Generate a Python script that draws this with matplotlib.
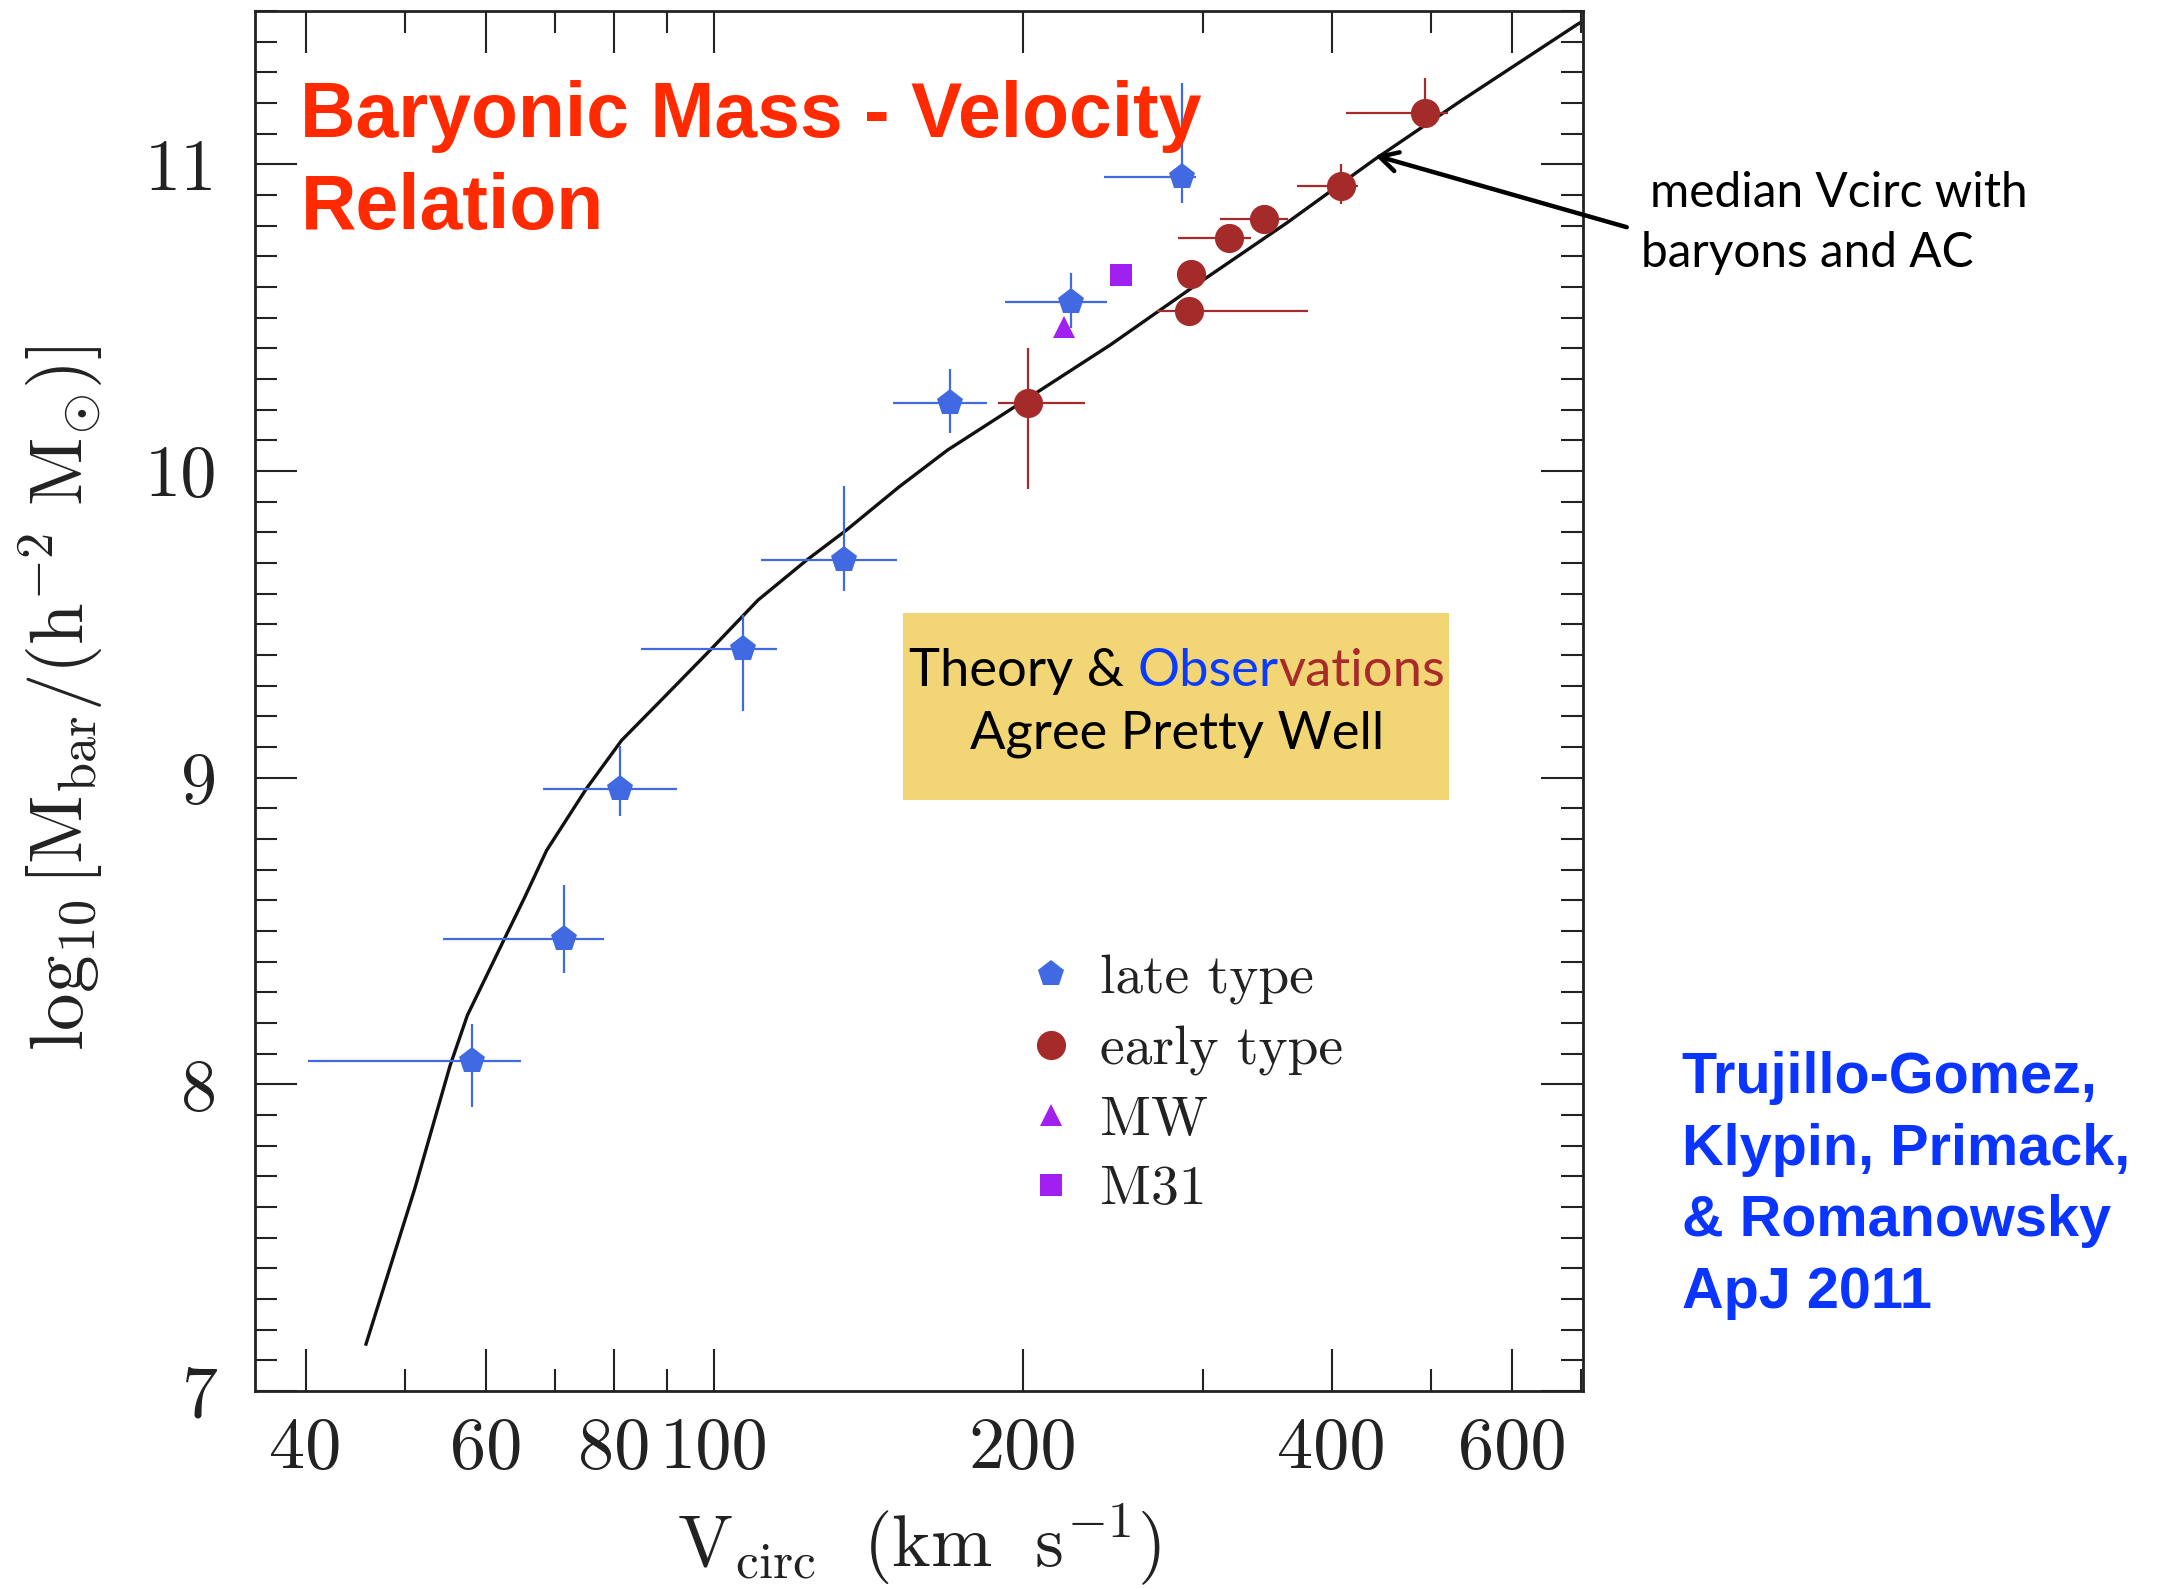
import matplotlib
matplotlib.use('Agg')
import matplotlib.pyplot as plt
import numpy as np
from matplotlib.patches import Rectangle
from matplotlib.ticker import NullFormatter

plt.rcParams['mathtext.fontset'] = 'cm'
plt.rcParams['axes.unicode_minus'] = False

# ---------------- data ----------------
curve_v = [45.8, 51.1, 55.3, 57.5, 62.5, 65.4, 68.7, 75.1, 81.3, 88.8, 99.1, 110.4,
           123.1, 134.6, 151.5, 168.9, 192.0, 243.4, 296.6, 361.4, 440.2, 536.4, 693.4, 699.9]
curve_m = [7.153, 7.660, 8.060, 8.225, 8.475, 8.610, 8.763, 8.964, 9.122, 9.252, 9.415, 9.579,
           9.709, 9.807, 9.948, 10.068, 10.188, 10.411, 10.612, 10.808, 11.015, 11.210, 11.455, 11.463]

late_v = [58.1, 71.5, 81.0, 106.8, 134.0, 169.8, 222.7, 286.2]
late_v_lo = [40.2, 54.5, 68.1, 84.9, 111.1, 149.4, 192.0, 240.0]
late_v_hi = [64.8, 78.2, 92.1, 115.3, 150.9, 184.5, 241.9, 295.3]
late_m = [8.075, 8.475, 8.964, 9.418, 9.711, 10.221, 10.552, 10.960]
late_m_lo = [7.925, 8.362, 8.875, 9.216, 9.608, 10.123, 10.467, 10.873]
late_m_hi = [8.197, 8.651, 9.103, 9.532, 9.951, 10.333, 10.645, 11.265]

early_v = [202.6, 290.7, 292.0, 317.8, 344.0, 408.3, 493.7]
early_v_lo = [189.4, 270.2, 283.0, 283.3, 311.2, 370.0, 413.3]
early_v_hi = [230.2, 379.6, 300.0, 333.9, 362.9, 424.8, 519.6]
early_m = [10.221, 10.523, 10.643, 10.761, 10.822, 10.928, 11.167]
early_m_lo = [9.940, 10.480, 10.615, 10.750, 10.800, 10.871, 11.123]
early_m_hi = [10.402, 10.569, 10.670, 10.772, 10.845, 11.002, 11.281]

mw_v = [219.6]
mw_m = [10.471]
m31_v = [249.5]
m31_m = [10.639]

xticks_major = [40, 60, 80, 100, 200, 400, 600]
xtick_labels = ['40', '60', '80', '100', '200', '400', '600']
xticks_minor = [50, 70, 90, 300, 500, 700]
yticks_major = [7, 8, 9, 10, 11]
ytick_labels = ['7', '8', '9', '10', '11']
yticks_minor = [round(7 + 0.1 * i, 1) for i in range(46)]

legend_labels = ['late type', 'early type', 'MW', 'M31']

# ---------------- colours ----------------
late_c = '#4169E1'
early_c = '#A52A2A'
purple = '#A020F0'
axc = '#222222'

W, H = 2159, 1589
def fx(x):
    return x / W
def fy(y):
    return 1 - y / H

fig = plt.figure(figsize=(W / 100, H / 100), dpi=100)
ax = fig.add_axes([255 / W, (H - 1391) / H, 1328 / W, 1380 / H])
ax.set_xscale('log')
ax.set_xlim(35.7, 703.3)
ax.set_ylim(7.0, 11.5)

ax.plot(curve_v, curve_m, color='#111111', lw=2.4, zorder=1.5, solid_joinstyle='round')

late = ax.errorbar(late_v, late_m,
                   xerr=[np.subtract(late_v, late_v_lo), np.subtract(late_v_hi, late_v)],
                   yerr=[np.subtract(late_m, late_m_lo), np.subtract(late_m_hi, late_m)],
                   fmt='p', ms=20, color=late_c, mew=0, elinewidth=1.6, capsize=6,
                   capthick=1.6, zorder=2)
early = ax.errorbar(early_v, early_m,
                    xerr=[np.subtract(early_v, early_v_lo), np.subtract(early_v_hi, early_v)],
                    yerr=[np.subtract(early_m, early_m_lo), np.subtract(early_m_hi, early_m)],
                    fmt='o', ms=21, color=early_c, mew=0, elinewidth=1.6, capsize=6,
                    capthick=1.6, zorder=2)
mw, = ax.plot(mw_v, mw_m, '^', ms=16, color=purple, mew=0, zorder=2)
m31, = ax.plot(m31_v, m31_m, 's', ms=16.5, color=purple, mew=0, zorder=2)

# axes styling
for s in ax.spines.values():
    s.set_linewidth(2.0)
    s.set_color(axc)
ax.set_xticks(xticks_major)
ax.set_xticklabels(xtick_labels, fontfamily='cmr10', fontsize=52, color=axc)
ax.set_xticks(xticks_minor, minor=True)
ax.xaxis.set_minor_formatter(NullFormatter())
ax.set_yticks(yticks_major)
ax.set_yticklabels(ytick_labels, fontfamily='cmr10', fontsize=52, color=axc)
ax.set_yticks(yticks_minor, minor=True)
ax.yaxis.set_minor_formatter(NullFormatter())
ax.tick_params(which='both', direction='in', top=True, right=True, color=axc)
ax.tick_params(which='major', length=30, width=1.5)
ax.tick_params(which='minor', length=16, width=1.5)
ax.tick_params(axis='x', which='major', pad=19)
ax.tick_params(axis='y', which='major', pad=27)

ax.set_xlabel(r'$\mathrm{V_{circ}\ \ (km\ \ s^{-1})}$', fontsize=54, color=axc)
ax.xaxis.label.set_verticalalignment('baseline')
ax.xaxis.set_label_coords(0.5, -0.1273)
ax.set_ylabel(r'$\log_{10}[\mathrm{M_{bar}}/(\mathrm{h^{-2}\ M_{\odot}})]$', fontsize=50, color=axc)
ax.yaxis.set_label_coords(-0.1127, 0.502)

leg = ax.legend(handles=[late[0], early[0], mw, m31], labels=legend_labels,
                loc='upper left', bbox_to_anchor=(0.5829, 0.316), frameon=False,
                borderpad=0, borderaxespad=0, handlelength=0.8, handletextpad=0.47,
                labelspacing=0.36, numpoints=1, prop={'family': 'cmr10', 'size': 40})
for t in leg.get_texts():
    t.set_color(axc)

# yellow box
ax.add_patch(Rectangle((0.4880, 0.4283), 0.8991 - 0.4880, 0.5638 - 0.4283,
                       transform=ax.transAxes, facecolor='#F2D675', edgecolor='none', zorder=3))

ax.annotate('', xy=(441.0, 11.029), xytext=(775.9, 10.795), xycoords='data', textcoords='data',
            annotation_clip=False,
            arrowprops=dict(arrowstyle='->,head_length=1.3,head_width=0.7', lw=3.2,
                            color='black', shrinkA=0, shrinkB=0))

r = fig.canvas.get_renderer()
def width(t):
    return t.get_window_extent(renderer=r).width
def fit(t, target, horiz=True):
    for _ in range(3):
        bb = t.get_window_extent(renderer=r)
        cur = bb.width if horiz else bb.height
        t.set_fontsize(t.get_fontsize() * target / cur)

fit(ax.yaxis.label, 706, horiz=False)
fit(ax.xaxis.label, 484)

# title
red = '#FF2A00'
t1 = fig.text(fx(300.4), fy(136.7), 'Baryonic Mass - Velocity', color=red, fontsize=55,
              fontweight='bold', family='Liberation Sans', va='baseline', ha='left')
fit(t1, 902)
fig.text(fx(300.4), fy(229.3), 'Relation', color=red, fontsize=t1.get_fontsize(),
         fontweight='bold', family='Liberation Sans', va='baseline', ha='left')

# median annotation text
m1 = fig.text(fx(1650), fy(207), 'median Vcirc with', color='black', fontsize=38,
              family='Lato', va='baseline', ha='left')
fit(m1, 377)
fig.text(fx(1641), fy(267), 'baryons and AC', color='black', fontsize=m1.get_fontsize(),
         family='Lato', va='baseline', ha='left')

# box text
kw = dict(family='Lato', va='baseline', ha='left', zorder=5)
full = fig.text(0, 0, 'Theory & Observations', fontsize=40, **kw)
fit(full, 536)
fs = full.get_fontsize()
w_full = width(full)
tmp = fig.text(0, 0, 'Theory & Obser', fontsize=fs, **kw); w_a = width(tmp); tmp.remove()
tmp = fig.text(0, 0, 'Obser', fontsize=fs, **kw); w_o = width(tmp); tmp.remove()
tmp = fig.text(0, 0, 'vations', fontsize=fs, **kw); w_v = width(tmp); tmp.remove()
full.remove()
x0 = 1177 - w_full / 2
fig.text(fx(x0), fy(686), 'Theory &', color='black', fontsize=fs, **kw)
fig.text(fx(x0 + w_a - w_o), fy(686), 'Obser', color='#0A3CFF', fontsize=fs, **kw)
fig.text(fx(x0 + w_full - w_v), fy(686), 'vations', color='#A82A2A', fontsize=fs, **kw)
fig.text(fx(1177), fy(749), 'Agree Pretty Well', color='black', fontsize=fs,
         family='Lato', va='baseline', ha='center', zorder=5)

# reference text
blue = '#0A34FF'
ref_lines = ['Trujillo-Gomez,', 'Klypin, Primack,', '& Romanowsky', 'ApJ 2011']
ref_base = [1092.7, 1165, 1236, 1308]
rt = fig.text(fx(1681.7), fy(ref_base[1]), ref_lines[1], color=blue, fontsize=39,
              fontweight='bold', family='Liberation Sans', va='baseline', ha='left')
fit(rt, 448)
for ln, b in zip([ref_lines[0], ref_lines[2], ref_lines[3]], [ref_base[0], ref_base[2], ref_base[3]]):
    fig.text(fx(1681.7), fy(b), ln, color=blue, fontsize=rt.get_fontsize(),
             fontweight='bold', family='Liberation Sans', va='baseline', ha='left')

fig.savefig('out.png', dpi=100)
